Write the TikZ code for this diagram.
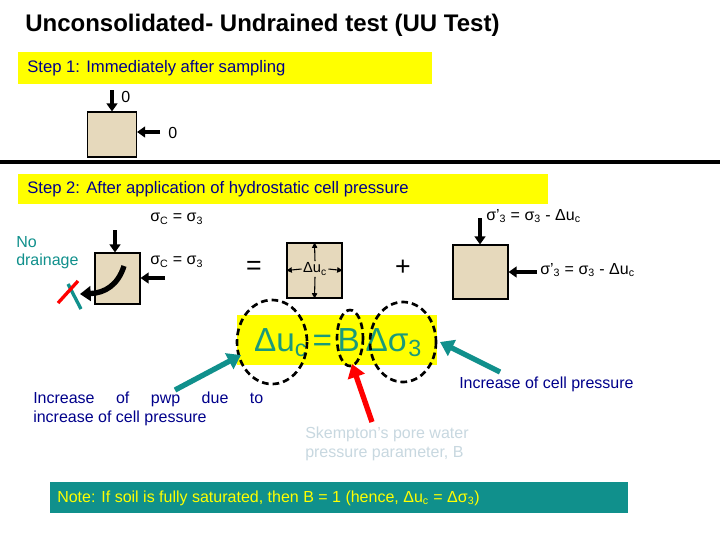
\documentclass[tikz,border=0pt]{standalone}
\usepackage{fontspec}
\setmainfont{Liberation Sans}
\usetikzlibrary{arrows.meta}
\begin{document}
\begin{tikzpicture}[x=0.75pt,y=-0.75pt,
  blk/.style={draw=black,fill=soil,line width=0.8pt},
  barr/.style={line width=2.5pt,-{Triangle[length=6pt,width=8pt]}},
  tarr/.style={line width=4pt,draw=teal1,-{Triangle[length=10pt,width=13pt]}},
  lab/.style={font=\fontsize{12}{14}\selectfont,anchor=west,inner sep=0pt},
  navy/.style={text=navyc,font=\fontsize{12}{14}\selectfont,inner sep=0pt,anchor=west},
  dcirc/.style={draw=black,dashed,line width=2pt,dash pattern=on 5pt off 3pt}]
\definecolor{soil}{HTML}{E6D9BC}
\definecolor{navyc}{HTML}{00008B}
\definecolor{teal1}{HTML}{10908C}
\definecolor{ylw}{HTML}{FFFF00}
\definecolor{eqc}{HTML}{1A9A7A}
\definecolor{skc}{HTML}{C8D8E0}
\path[use as bounding box,fill=white] (0,0) rectangle (720,540);
\node[anchor=west,inner sep=0pt,font=\bfseries\fontsize{18}{21}\selectfont] (title) at (25,25) {Unconsolidated- Undrained test (UU Test)};
% step 1
\node[fill=ylw,anchor=north west,minimum width=414*0.75pt,minimum height=32*0.75pt,inner sep=0pt] (s1) at (18,52) {};
\node[lab,text=navyc,font=\fontsize{12.5}{14}\selectfont] (s1t) at (27,68) {Step 1: Immediately after sampling};
\node[blk,minimum width=49*0.75pt,minimum height=45*0.75pt,inner sep=0pt] (b1) at (112,134.5) {};
\coordinate (b1a) at (112,90);
\coordinate (b1b) at (160,132);
\draw[barr] (b1a) -- (b1.north);
\draw[barr] (b1b) -- (b1.east|-b1b);
\node[lab] (z1) at (121,97) {0};
\node[lab] (z2) at (168,133) {0};
\draw[line width=2.5pt] (0,162) -- (720,162);
% step 2
\node[fill=ylw,anchor=north west,minimum width=530*0.75pt,minimum height=30*0.75pt,inner sep=0pt] (s2) at (18,174) {};
\node[lab,text=navyc,font=\fontsize{12.5}{14}\selectfont] (s2t) at (27,189) {Step 2: After application of hydrostatic cell pressure};
\node[blk,minimum width=45*0.75pt,minimum height=51*0.75pt,inner sep=0pt] (b2) at (117.5,278.5) {};
\coordinate (b2a) at (115,230);
\coordinate (b2b) at (165,278);
\draw[barr] (b2a) -- (b2.north-|b2a);
\draw[barr] (b2b) -- (b2.east|-b2b);
\node[lab] (l1) at (150,219) {σ\textsubscript{C} = σ\textsubscript{3}};
\node[lab] (l2) at (150,262) {σ\textsubscript{C} = σ\textsubscript{3}};
\node[text=teal1,font=\fontsize{12}{14}\selectfont,align=left,anchor=north west,inner sep=0pt] (nd) at (16,236) {No\\drainage};
\coordinate (c1) at (124,266);
\coordinate (c2) at (80,294);
\draw[line width=4pt,-{Triangle[length=8pt,width=11pt]}] (c1) .. controls (118,285) and (105,293) .. (c2);
\coordinate (x1) at (68,284); \coordinate (x2) at (81,309);
\coordinate (x3) at (58,303); \coordinate (x4) at (78,281);
\draw[teal1,line width=2.5pt] (x1) -- (x2);
\draw[red,line width=2.5pt] (x3) -- (x4);
\node[font=\fontsize{20}{22}\selectfont,inner sep=0pt] (eq) at (254,268) {=};
\node[blk,minimum width=55*0.75pt,minimum height=55*0.75pt,inner sep=0pt] (b3) at (314.5,270.5) {};
\node[font=\fontsize{11}{13}\selectfont,inner sep=1pt,fill=soil] (du) at (315,269) {Δu\textsubscript{c}};
\draw[-{Triangle[length=4pt,width=4pt]},line width=0.8pt] (du.north) -- (b3.north);
\draw[-{Triangle[length=4pt,width=4pt]},line width=0.8pt] (du.south) -- (b3.south);
\draw[-{Triangle[length=4pt,width=4pt]},line width=0.8pt] (du.west) -- (b3.west);
\draw[-{Triangle[length=4pt,width=4pt]},line width=0.8pt] (du.east) -- (b3.east);
\node[font=\fontsize{20}{22}\selectfont,inner sep=0pt] (pl) at (403,268) {+};
\node[blk,minimum width=55*0.75pt,minimum height=54*0.75pt,inner sep=0pt] (b4) at (480.5,272) {};
\coordinate (b4a) at (480,218);
\coordinate (b4b) at (537,272);
\draw[barr] (b4a) -- (b4.north-|b4a);
\draw[barr] (b4b) -- (b4.east|-b4b);
\node[lab] (l3) at (486,216) {σ’\textsubscript{3} = σ\textsubscript{3} - Δu\textsubscript{c}};
\node[lab] (l4) at (540,270) {σ’\textsubscript{3} = σ\textsubscript{3} - Δu\textsubscript{c}};
% equation
\node[fill=ylw,anchor=north west,minimum width=200*0.75pt,minimum height=50*0.75pt,inner sep=0pt] (eqb) at (237,315) {};
\node[text=eqc,font=\fontsize{25}{28}\selectfont,inner sep=0pt] (eqt) at (338,343) {Δu\textsubscript{c}\,=\,B\,Δσ\textsubscript{3}};
\draw[dcirc] (272,342) ellipse (35 and 42);
\draw[dcirc] (350,338) ellipse (13 and 28);
\draw[dcirc] (403,342) ellipse (33 and 40);
\coordinate (a1) at (175,390); \coordinate (a1e) at (241,355);
\coordinate (a2) at (500,372); \coordinate (a2e) at (440,342);
\coordinate (a3) at (372,422); \coordinate (a3e) at (352,364);
\draw[tarr] (a1) -- (a1e);
\draw[tarr] (a2) -- (a2e);
\draw[line width=4pt,red,-{Triangle[length=10pt,width=13pt]}] (a3) -- (a3e);
\node[navy,align=left,anchor=north west] (t1) at (33,392) {\makebox[172.5pt][s]{Increase of pwp due to}\\increase of cell pressure};
\node[navy] (t2) at (459,384) {Increase of cell pressure};
\node[navy,text=skc,align=left,anchor=north west] (t3) at (305,427) {Skempton’s pore water\\pressure parameter, B};
% note
\node[fill=teal1,anchor=north west,minimum width=578*0.75pt,minimum height=31*0.75pt,inner sep=0pt] (nb) at (50,482) {};
\node[lab,text=ylw] (nt) at (57,498) {Note: If soil is fully saturated, then B = 1 (hence, Δu\textsubscript{c} = Δσ\textsubscript{3})};
\end{tikzpicture}
\end{document}
